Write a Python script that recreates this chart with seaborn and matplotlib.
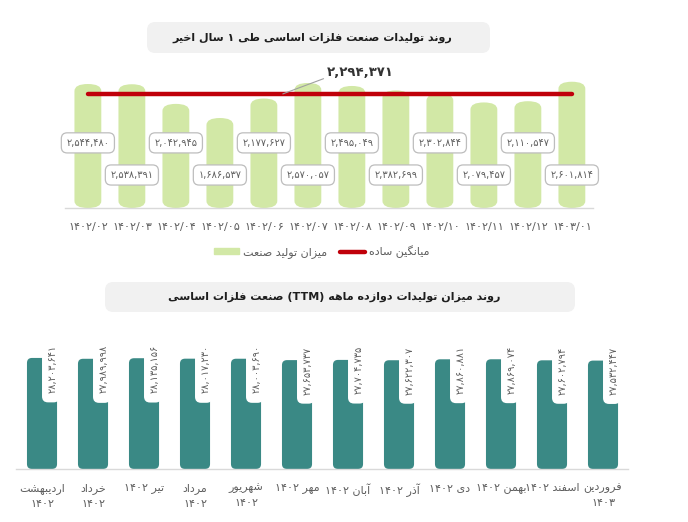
import numpy as np
import pandas as pd
import matplotlib
matplotlib.use("Agg")
import matplotlib.pyplot as plt
import matplotlib.patches as mpatches
import matplotlib.transforms as mtransforms
from matplotlib.lines import Line2D
import seaborn as sns

# ---- data ----
top_title = "روند تولیدات صنعت فلزات اساسی طی ۱ سال اخیر"
bottom_title = "روند میزان تولیدات دوازده ماهه (TTM) صنعت فلزات اساسی"
legend_bar = "میزان تولید صنعت"
legend_line = "میانگین ساده"

periods = ["۱۴۰۲/۰۲", "۱۴۰۲/۰۳", "۱۴۰۲/۰۴", "۱۴۰۲/۰۵", "۱۴۰۲/۰۶", "۱۴۰۲/۰۷",
           "۱۴۰۲/۰۸", "۱۴۰۲/۰۹", "۱۴۰۲/۱۰", "۱۴۰۲/۱۱", "۱۴۰۲/۱۲", "۱۴۰۳/۰۱"]
production = [2544480, 2538391, 2042945, 1686537, 2177627, 2570057,
              2495049, 2382699, 2302844, 2079457, 2110547, 2601814]

ttm_months = ["اردیبهشت\n۱۴۰۲", "خرداد\n۱۴۰۲", "تیر ۱۴۰۲", "مرداد\n۱۴۰۲",
              "شهریور\n۱۴۰۲", "مهر ۱۴۰۲", "آبان ۱۴۰۲", "آذر ۱۴۰۲",
              "دی ۱۴۰۲", "بهمن ۱۴۰۲", "اسفند ۱۴۰۲", "فروردین\n۱۴۰۳"]
ttm = [28203641, 27989998, 28135156, 28017230, 28003690, 27653737,
       27704735, 27622307, 27860881, 27869074, 27602794, 27532447]

# ---- colours ----
green = "#d2e8a6"
teal = "#3a8985"
red = "#c0000a"
grey_txt = "#5e5e5e"

# ---- simple persian shaping (no reshaper available) ----
FORMS = {
    "ا": ("\uFE8D", "\uFE8E", None, None),
    "آ": ("\uFE81", "\uFE82", None, None),
    "ب": ("\uFE8F", "\uFE90", "\uFE91", "\uFE92"),
    "ت": ("\uFE95", "\uFE96", "\uFE97", "\uFE98"),
    "خ": ("\uFEA5", "\uFEA6", "\uFEA7", "\uFEA8"),
    "د": ("\uFEA9", "\uFEAA", None, None),
    "ذ": ("\uFEAB", "\uFEAC", None, None),
    "ر": ("\uFEAD", "\uFEAE", None, None),
    "ز": ("\uFEAF", "\uFEB0", None, None),
    "س": ("\uFEB1", "\uFEB2", "\uFEB3", "\uFEB4"),
    "ش": ("\uFEB5", "\uFEB6", "\uFEB7", "\uFEB8"),
    "ص": ("\uFEB9", "\uFEBA", "\uFEBB", "\uFEBC"),
    "ط": ("\uFEC1", "\uFEC2", "\uFEC3", "\uFEC4"),
    "ع": ("\uFEC9", "\uFECA", "\uFECB", "\uFECC"),
    "ف": ("\uFED1", "\uFED2", "\uFED3", "\uFED4"),
    "ل": ("\uFEDD", "\uFEDE", "\uFEDF", "\uFEE0"),
    "م": ("\uFEE1", "\uFEE2", "\uFEE3", "\uFEE4"),
    "ن": ("\uFEE5", "\uFEE6", "\uFEE7", "\uFEE8"),
    "ه": ("\uFEE9", "\uFEEA", "\uFEEB", "\uFEEC"),
    "و": ("\uFEED", "\uFEEE", None, None),
    "ی": ("\uFBFC", "\uFBFD", "\uFBFE", "\uFBFF"),
    "گ": ("\uFB92", "\uFB93", "\uFB94", "\uFB95"),
}
LTR = set("0123456789۰۱۲۳۴۵۶۷۸۹,/()") | set("ABCDEFGHIJKLMNOPQRSTUVWXYZabcdefghijklmnopqrstuvwxyz")


def shape_line(s):
    out = []
    for i, ch in enumerate(s):
        if ch not in FORMS:
            out.append(ch)
            continue
        prev = s[i - 1] if i > 0 else None
        nxt = s[i + 1] if i + 1 < len(s) else None
        iso, fin, ini, med = FORMS[ch]
        jp = prev in FORMS and FORMS[prev][2] is not None
        jn = nxt in FORMS and ini is not None
        if jp and jn:
            out.append(med)
        elif jp:
            out.append(fin)
        elif jn:
            out.append(ini)
        else:
            out.append(iso)
    shaped = "".join(out)
    # visual order: reverse runs, keep LTR runs as they are
    runs = []
    for ch in shaped:
        kind = ch in LTR
        if runs and runs[-1][0] == kind:
            runs[-1][1] += ch
        else:
            runs.append([kind, ch])
    vis = [r if k else r[::-1] for k, r in runs]
    return "".join(vis[::-1])


def fa(s):
    return "\n".join(shape_line(l) for l in s.split("\n"))


def fa_num(n):
    return f"{n:,}".translate(str.maketrans("0123456789", "۰۱۲۳۴۵۶۷۸۹"))


def round_patches(ax, rx_px, ry_px, bottom=None):
    p0, p1 = ax.transData.transform([(0, 0), (1, 1)])
    pxx, pyy = p1 - p0
    out = []
    for p in list(ax.patches):
        x, y, w, h = p.get_x(), p.get_y(), p.get_width(), p.get_height()
        fc = p.get_facecolor()
        p.remove()
        y0 = y if bottom is None else bottom
        r = rx_px / pxx
        new = mpatches.FancyBboxPatch((x, y0), w, y + h - y0,
                                      boxstyle=f"round,pad=0,rounding_size={r}",
                                      mutation_aspect=(ry_px / pyy) / r,
                                      fc=fc, ec="none", zorder=2)
        ax.add_patch(new)
        out.append((x, w))
    return out


sns.set_theme(style="white")
plt.rcParams["font.family"] = ["DejaVu Sans"]

W, H = 688, 522
fig = plt.figure(figsize=(W / 100, H / 100), dpi=100)


def fbox(x0, y0, x1, y1):
    # pixel coords, y measured from top
    return [x0 / W, 1 - y1 / H, (x1 - x0) / W, (y1 - y0) / H]


# title boxes
for (x0, y0, x1, y1), txt, xr in [((147, 22, 490, 53), top_title, 452),
                                  ((105, 282, 575, 312), bottom_title, 500)]:
    fig.patches.append(mpatches.FancyBboxPatch(
        (x0 / W, 1 - y1 / H), (x1 - x0) / W, (y1 - y0) / H,
        boxstyle="round,pad=0,rounding_size=0.012", transform=fig.transFigure,
        fc="#f1f1f1", ec="none", mutation_aspect=W / H))
    fig.text(xr / W, 1 - (y0 + y1) / 2 / H, fa(txt), ha="right", va="center",
             fontsize=8, fontweight="bold", color="#1e1e1e")

# ---- top chart ----
ax1 = fig.add_axes(fbox(65, 60, 593, 208))
df1 = pd.DataFrame({"period": periods, "value": production})
sns.barplot(data=df1, x="period", y="value", color=green, saturation=1,
            width=0.61, ax=ax1)
ax1.set_xlim(-0.52, 11.48)
ax1.set_ylim(-584000, 3150000)
round_patches(ax1, 13.5, 7, bottom=-584000)

avg = np.mean(production)
df_avg = pd.DataFrame({"period": periods, "avg": [avg] * len(periods)})
sns.lineplot(data=df_avg, x="period", y="avg", color=red, lw=3.2, ax=ax1,
             zorder=3)
ax1.annotate(fa_num(int(round(avg))), xy=(4.43, avg), xytext=(44, 21),
             textcoords="offset pixels", ha="left", va="center",
             fontsize=9.5, fontweight="bold", color="#333333",
             arrowprops=dict(arrowstyle="-", color="#a0a0a0", lw=0.8,
                             shrinkA=0, shrinkB=0, relpos=(0, 0.15)))

trans1 = mtransforms.blended_transform_factory(ax1.transData, ax1.transAxes)
for i, v in enumerate(production):
    yy = 0.44 if i % 2 == 0 else 0.223
    ax1.text(i, yy, fa_num(v), transform=trans1, ha="center", va="center",
             fontsize=7, color=grey_txt, zorder=5,
             bbox=dict(boxstyle="round,pad=0.52,rounding_size=0.6", fc="white",
                       ec="#bdbdbd", lw=0.9))

ax1.set_xticks(range(len(periods)))
ax1.set_xticklabels(periods, fontsize=8, color=grey_txt)
ax1.tick_params(axis="x", length=0, pad=10)
ax1.set_yticks([])
ax1.set_xlabel("")
ax1.set_ylabel("")
for s in ["top", "left", "right"]:
    ax1.spines[s].set_visible(False)
ax1.spines["bottom"].set_color("#d9d9d9")
ax1.spines["bottom"].set_linewidth(1)

handles = [mpatches.Patch(color=green), Line2D([], [], color=red, lw=3.2)]
fig.legend(handles, [fa(legend_bar), fa(legend_line)], ncol=2, frameon=False,
           loc="center", bbox_to_anchor=(322 / W, 1 - 252 / H), fontsize=8,
           labelcolor=grey_txt, handlelength=2.2, handleheight=0.45,
           columnspacing=1.2, handletextpad=0.4)

# ---- bottom chart ----
ax2 = fig.add_axes(fbox(16, 330, 628, 469))
df2 = pd.DataFrame({"month": ttm_months, "ttm": ttm})
sns.barplot(data=df2, x="month", y="ttm", color=teal, saturation=1,
            width=0.59, ax=ax2)
ax2.set_xlim(-0.51, 11.49)
ax2.set_ylim(0, 35300000)
bars = round_patches(ax2, 5, 5)

p0, p1 = ax2.transData.transform([(0, 0), (1, 1)])
rx2 = 6 / (p1 - p0)[0]
for i, ((x, w), v) in enumerate(zip(bars, ttm)):
    notch = mpatches.FancyBboxPatch((x + w / 2, v * 0.60), w / 2 + 0.05, v * 0.6,
                                    boxstyle=f"round,pad=0,rounding_size={rx2}",
                                    mutation_aspect=(6 / (p1 - p0)[1]) / rx2,
                                    fc="white", ec="none", zorder=3)
    ax2.add_patch(notch)
    ax2.text(x + w / 2 + 0.2, v * 0.905, fa_num(v), rotation=90, ha="center",
             va="center", fontsize=7, color=grey_txt, zorder=4)

ax2.set_xticks(range(len(ttm_months)))
ax2.set_xticklabels([fa(m) for m in ttm_months], fontsize=8, color=grey_txt,
                    linespacing=1.6)
ax2.tick_params(axis="x", length=0, pad=10)
ax2.set_yticks([])
ax2.set_xlabel("")
ax2.set_ylabel("")
for s in ["top", "left", "right"]:
    ax2.spines[s].set_visible(False)
ax2.spines["bottom"].set_color("#d9d9d9")
ax2.spines["bottom"].set_linewidth(1)

fig.savefig("out.png", dpi=100, facecolor="white")
